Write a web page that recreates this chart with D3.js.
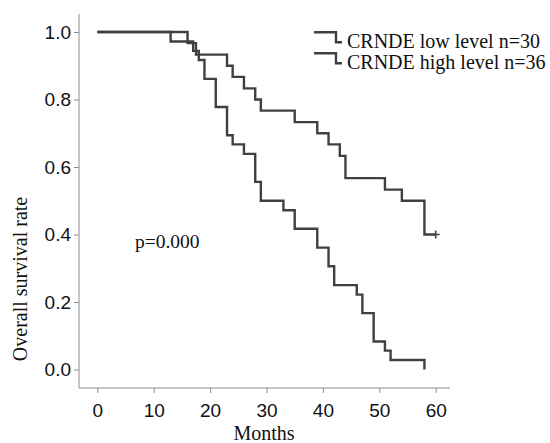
<!DOCTYPE html>
<html>
<head>
<meta charset="utf-8">
<script src="https://cdn.jsdelivr.net/npm/d3@7"></script>
<style>
  html, body { margin: 0; padding: 0; background: #fff; }
  svg { display: block; }
</style>
</head>
<body>
<svg id="chart" width="550" height="443"></svg>
<script>
// ---- data ----
const lowTimes  = [0, 16, 17.5, 23, 24, 26, 28, 29, 35, 39, 41, 43, 44, 51, 54, 58, 60];
const lowSurv   = [1.000, 0.967, 0.933, 0.900, 0.867, 0.833, 0.800, 0.767, 0.733, 0.700, 0.667, 0.633, 0.567, 0.533, 0.500, 0.400, 0.400];
const highTimes = [0, 13, 17, 18, 19, 21, 23, 24, 26, 28, 29, 33, 35, 39, 41, 42, 46, 47, 49, 51, 52, 58];
const highSurv  = [1.000, 0.972, 0.944, 0.917, 0.861, 0.778, 0.694, 0.667, 0.639, 0.556, 0.500, 0.472, 0.417, 0.361, 0.306, 0.250, 0.222, 0.167, 0.083, 0.056, 0.028, 0.000];
const censorTimes = [60];
const censorSurv  = [0.400];
const xTicks = [0, 10, 20, 30, 40, 50, 60];
const yTicks = [0.0, 0.2, 0.4, 0.6, 0.8, 1.0];
const seriesNames = ["CRNDE low level n=30", "CRNDE high level n=36"];
const pText = "p=0.000";

const serif = "'Liberation Serif', 'Times New Roman', serif";
const sans = "'Liberation Sans', Arial, sans-serif";
const lineColor = "#404040";
const axisColor = "#8c8c8c";

const svg = d3.select("#chart");
const x = d3.scaleLinear().domain([0, 60]).range([97.3, 435.7]);
const y = d3.scaleLinear().domain([0, 1]).range([369.5, 32]);

// axes
const xAxisY = 388, yAxisX = 79;
svg.append("line").attr("x1", yAxisX).attr("x2", yAxisX).attr("y1", 14).attr("y2", xAxisY)
  .attr("stroke", axisColor).attr("stroke-width", 1);
svg.append("line").attr("x1", yAxisX).attr("x2", 450).attr("y1", xAxisY).attr("y2", xAxisY)
  .attr("stroke", axisColor).attr("stroke-width", 1);

const xa = svg.append("g").attr("transform", `translate(0,${xAxisY})`)
  .call(d3.axisBottom(x).tickValues(xTicks).tickFormat(d3.format("d")).tickSize(5).tickPadding(11));
xa.select(".domain").remove();
xa.selectAll("line").attr("stroke", axisColor);
xa.selectAll("text").attr("font-family", sans).attr("font-size", 19).attr("fill", "#111");

const ya = svg.append("g").attr("transform", `translate(${yAxisX},0)`)
  .call(d3.axisLeft(y).tickValues(yTicks).tickFormat(d3.format(".1f")).tickSize(5).tickPadding(3));
ya.select(".domain").remove();
ya.selectAll("line").attr("stroke", axisColor);
ya.selectAll("text").attr("font-family", sans).attr("font-size", 19).attr("fill", "#111");

// curves
const line = d3.line().x(d => x(d[0])).y(d => y(d[1])).curve(d3.curveStepAfter);
const lowData = lowTimes.map((t, i) => [t, lowSurv[i]]);
const highData = highTimes.map((t, i) => [t, highSurv[i]]);
[lowData, highData].forEach(data => {
  svg.append("path").attr("d", line(data)).attr("fill", "none")
    .attr("stroke", lineColor).attr("stroke-width", 2.4);
});
censorTimes.forEach((t, i) => {
  const cx = x(t), cy = y(censorSurv[i]);
  svg.append("path").attr("d", `M${cx},${cy - 4}V${cy + 4}M${cx - 3},${cy}H${cx + 4}`)
    .attr("stroke", lineColor).attr("stroke-width", 1.6).attr("fill", "none");
});

// legend
const legY = [32.3, 53.3];
seriesNames.forEach((name, i) => {
  const top = legY[i];
  svg.append("path")
    .attr("d", `M314,${top}H336V${top + 10}H342`)
    .attr("fill", "none").attr("stroke", lineColor).attr("stroke-width", 2.4);
  svg.append("text").attr("x", 347).attr("y", top + 16)
    .attr("font-family", serif).attr("font-size", 20).attr("fill", "#111").text(name);
});

// p value
svg.append("text").attr("x", 135).attr("y", 248)
  .attr("font-family", serif).attr("font-size", 19.5).attr("fill", "#111").text(pText);

// axis titles
svg.append("text").attr("x", 264).attr("y", 440).attr("text-anchor", "middle")
  .attr("font-family", serif).attr("font-size", 20).attr("fill", "#111").text("Months");
svg.append("text").attr("transform", "translate(27,279) rotate(-90)").attr("text-anchor", "middle")
  .attr("font-family", serif).attr("font-size", 20).attr("fill", "#111").text("Overall survival rate");
</script>
</body>
</html>
